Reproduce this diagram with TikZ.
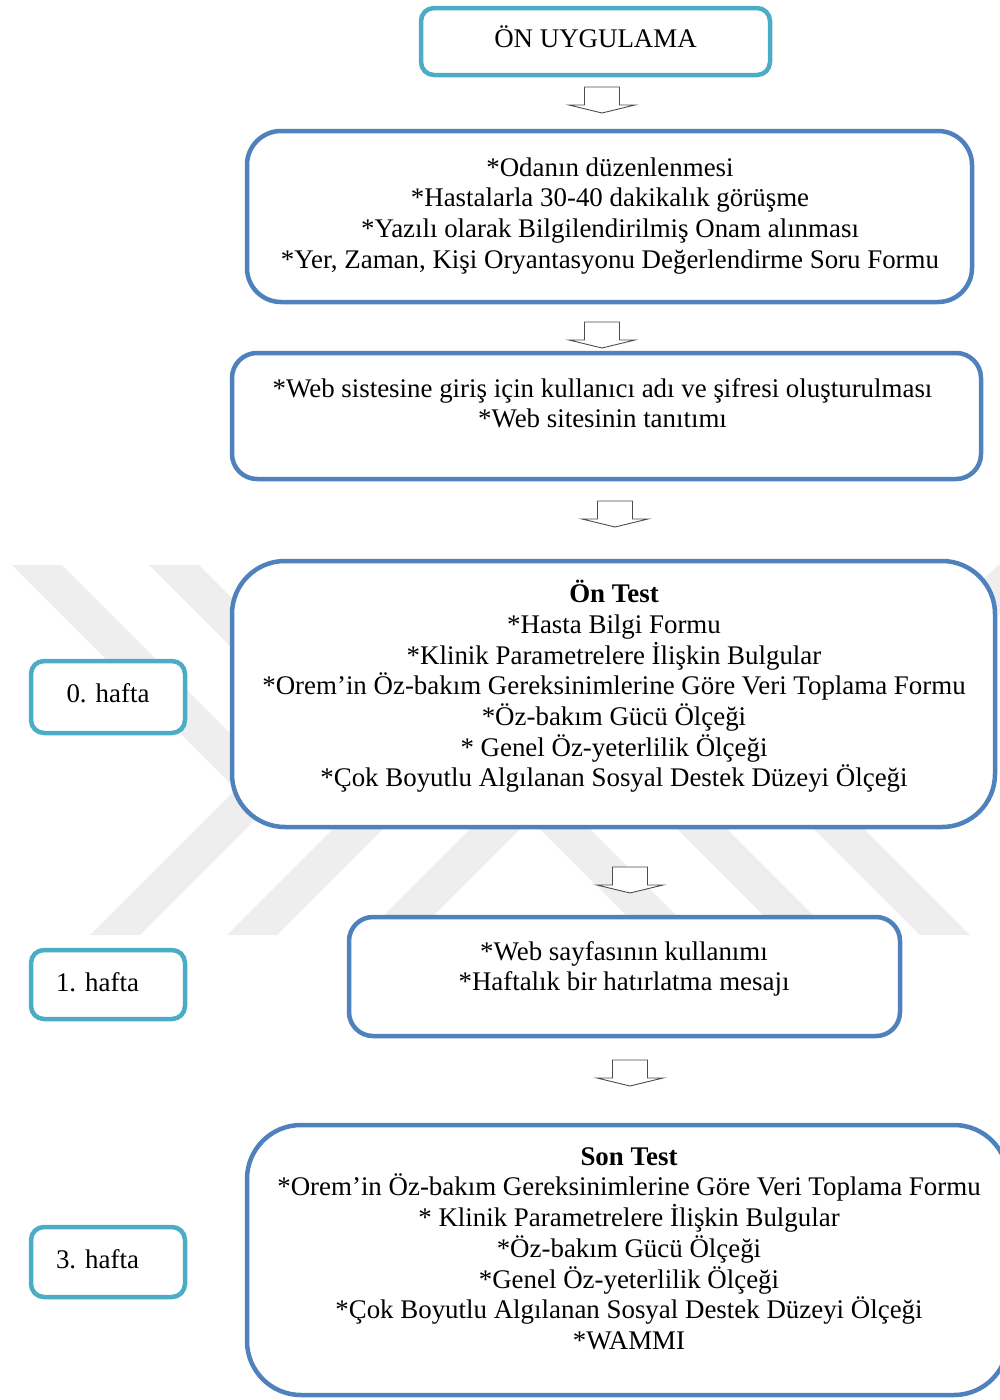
\documentclass[tikz,border=0pt]{standalone}
\usepackage{fontspec}
\setmainfont{Liberation Serif}
\definecolor{tealline}{HTML}{4BACC6}
\definecolor{blueline}{HTML}{4F81BD}
\definecolor{markgray}{HTML}{EEEEEE}
\newcommand\firstrow{\rule{0pt}{25pt}}
\tikzset{
  tealbox/.style={draw=tealline, line width=4.5pt, fill=white, inner sep=0pt, rounded corners=13pt},
  bluebox/.style={draw=blueline, line width=4.5pt, fill=white, inner sep=0pt},
  txt/.style={inner sep=0pt, align=center, anchor=north, font=\fontsize{26.9}{30.7}\selectfont},
  hollowarrow/.style={draw=black!70, fill=white, line width=0.9pt, line join=miter},
  markband/.style={fill=markgray, draw=none}
}
\begin{document}
\begin{tikzpicture}[x=1pt, y=-1pt]
\useasboundingbox (0,0) rectangle (1000,1400);
\clip (0,0) rectangle (1000,1400);

% faint background mark: nested chevrons, mirrored about x = 530
\foreach \d in {0,137,274} {
  \fill[markband] (12+\d,565) -- (62+\d,565) -- (286+\d,789) -- (140+\d,935) -- (90+\d,935) -- (236+\d,789) -- cycle;
  \fill[markband] (1048-\d,565) -- (998-\d,565) -- (774-\d,789) -- (920-\d,935) -- (970-\d,935) -- (824-\d,789) -- cycle;
}

% boxes
\node[tealbox, minimum width=349pt, minimum height=67pt] (onu) at (595.5,41.5) {};
\node[bluebox, minimum width=725pt, minimum height=171pt, rounded corners=34pt] (prep) at (609.5,216.5) {};
\node[bluebox, minimum width=749pt, minimum height=126pt, rounded corners=25pt] (web) at (606.5,416) {};
\node[bluebox, minimum width=763pt, minimum height=266pt, rounded corners=53pt] (pre) at (613.5,694) {};
\node[tealbox, minimum width=154pt, minimum height=72pt] (w0) at (108,697) {};
\node[bluebox, minimum width=551pt, minimum height=119pt, rounded corners=24pt] (use) at (624.5,976.5) {};
\node[tealbox, minimum width=154pt, minimum height=69pt] (w1) at (108,984.5) {};
\node[tealbox, minimum width=154pt, minimum height=70pt] (w3) at (108,1262) {};
\node[bluebox, minimum width=761pt, minimum height=270pt, rounded corners=54pt] (post) at (627.5,1260) {};

% texts
\node[txt] (onu-t) at (595.5,22.5) {\firstrow ÖN UYGULAMA};
\node[txt] (prep-t) at (610,151) {\firstrow *Odanın düzenlenmesi\\
  *Hastalarla 30-40 dakikalık görüşme\\
  *Yazılı olarak Bilgilendirilmiş Onam alınması\\
  *Yer, Zaman, Kişi Oryantasyonu Değerlendirme Soru Formu};
\node[txt] (web-t) at (602.5,372) {\firstrow *Web sistesine giriş için kullanıcı adı ve şifresi oluşturulması\\
  *Web sitesinin tanıtımı};
\node[txt] (pre-t) at (614,577.5) {\firstrow \textbf{Ön Test}\\
  *Hasta Bilgi Formu\\
  *Klinik Parametrelere İlişkin Bulgular\\
  *Orem’in Öz-bakım Gereksinimlerine Göre Veri Toplama Formu\\
  *Öz-bakım Gücü Ölçeği\\
  * Genel Öz-yeterlilik Ölçeği\\
  *Çok Boyutlu Algılanan Sosyal Destek Düzeyi Ölçeği};
\node[txt] (w0-t) at (108,677) {\firstrow 0. hafta};
\node[txt] (use-t) at (624,935) {\firstrow *Web sayfasının kullanımı\\
  *Haftalık bir hatırlatma mesajı};
\node[txt] (w1-t) at (97.5,966) {\firstrow 1. hafta};
\node[txt] (w3-t) at (97.5,1243) {\firstrow 3. hafta};
\node[txt] (post-t) at (629,1140) {\firstrow \textbf{Son Test}\\
  *Orem’in Öz-bakım Gereksinimlerine Göre Veri Toplama Formu\\
  * Klinik Parametrelere İlişkin Bulgular\\
  *Öz-bakım Gücü Ölçeği\\
  *Genel Öz-yeterlilik Ölçeği\\
  *Çok Boyutlu Algılanan Sosyal Destek Düzeyi Ölçeği\\
  *WAMMI};

% hollow block arrows between the stages
\coordinate (ar1) at (602,87);
\coordinate (ar2) at (602,322);
\coordinate (ar3) at (615,501);
\coordinate (ar4) at (630,867);
\coordinate (ar5) at (630,1060);
\foreach \a in {ar1,ar2,ar3,ar4,ar5} {
  \draw[hollowarrow] (\a) ++(-17.5,0) -- ++(35,0) -- ++(0,18) -- ++(15.5,0)
    -- ++(-33,8) -- ++(-33,-8) -- ++(15.5,0) -- cycle;
}
\end{tikzpicture}
\end{document}
